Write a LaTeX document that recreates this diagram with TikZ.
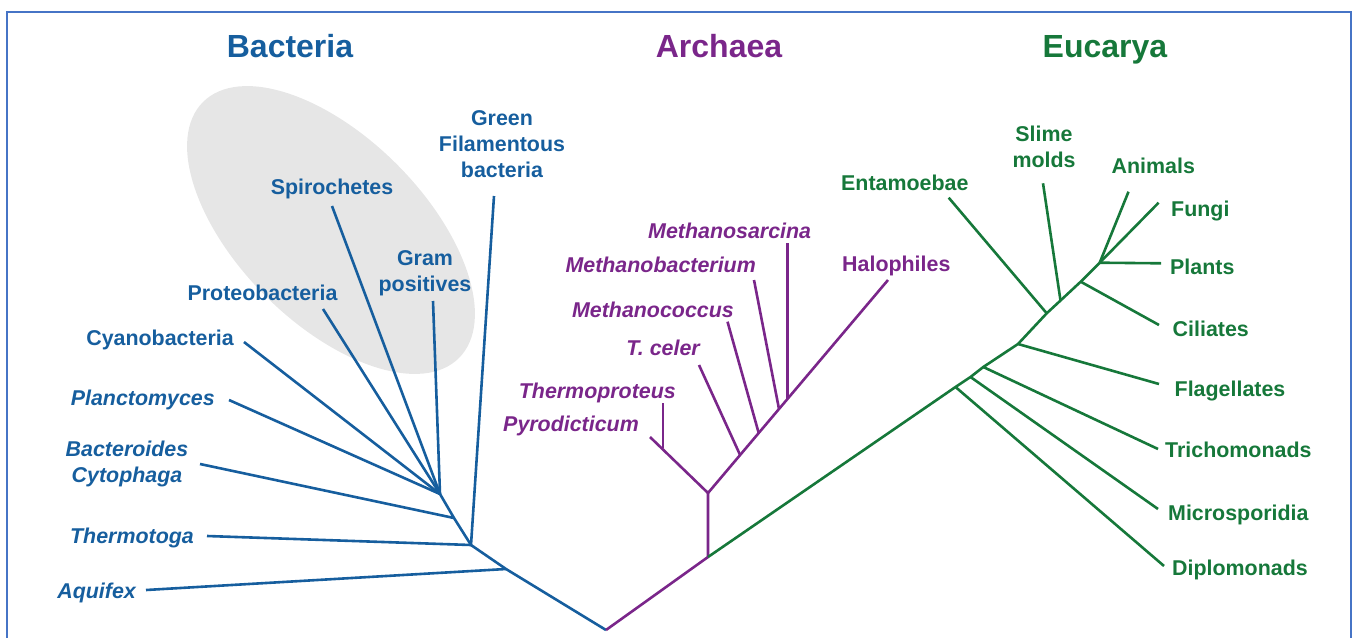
\documentclass[tikz,border=0pt]{standalone}
\usepackage{fontspec}
\setmainfont{Liberation Sans}
\definecolor{bblue}{RGB}{22,94,158}
\definecolor{apurple}{RGB}{122,38,138}
\definecolor{egreen}{RGB}{22,120,58}
\definecolor{framec}{RGB}{70,116,198}
\definecolor{groupgray}{RGB}{230,230,230}
\tikzset{
  lbl/.style={inner sep=0pt, font=\fontsize{21.4}{26}\selectfont\bfseries},
  ital/.style={inner sep=0pt, font=\fontsize{21.4}{26}\selectfont\bfseries\itshape},
  ttl/.style={inner sep=0pt, font=\fontsize{32}{38}\selectfont\bfseries},
  branch/.style={line width=2.6pt, line join=round},
  bac/.style={branch, draw=bblue},
  arc/.style={branch, draw=apurple},
  euc/.style={branch, draw=egreen},
}
\begin{document}
\begin{tikzpicture}[x=1pt,y=-1pt]
\useasboundingbox (0,0) rectangle (1354,637);
% frame
\draw[framec, line width=2pt] (7,640) -- (7,12) -- (1351,12) -- (1351,640);
% shaded group
\fill[groupgray, rotate around={-45:(331,230)}] (331,230) ellipse [x radius=181pt, y radius=93pt];

% ---------- coordinates ----------
\coordinate (R) at (606,630);
% bacteria
\coordinate (bA) at (506,569);
\coordinate (bT) at (471,545);
\coordinate (bB) at (454,518);
\coordinate (bH) at (440,494);
\coordinate (eAquifex) at (146,590);
\coordinate (eThermotoga) at (207,536);
\coordinate (eBacteroides) at (200,464);
\coordinate (ePlanct) at (229,400);
\coordinate (eCyano) at (244,342);
\coordinate (eProteo) at (323,309);
\coordinate (eSpiro) at (332,206);
\coordinate (eGram) at (433,301);
\coordinate (eGreen) at (494,196);
% archaea
\coordinate (aR) at (708,557);
\coordinate (aJ) at (708,493);
\coordinate (ePyro) at (650,437);
\coordinate (jThermop) at (663,448);
\coordinate (eThermop) at (663,403);
\coordinate (eHalo) at (888,280);
\coordinate (jTceler) at (740.1,455);
\coordinate (jMcoccus) at (758.7,433);
\coordinate (jMbact) at (779,409);
\coordinate (jMsarc) at (787.3,399.2);
\coordinate (eTceler) at (699,365);
\coordinate (eMcoccus) at (727.5,321.7);
\coordinate (eMbact) at (754,280);
\coordinate (eMsarc) at (787.3,243);
% eucarya
\coordinate (jDiplo) at (955.5,387);
\coordinate (jMicro) at (970.5,377);
\coordinate (jTricho) at (983.3,367);
\coordinate (jFlag) at (1018,344);
\coordinate (jEnt) at (1046.7,313.3);
\coordinate (jSlime) at (1060.5,300.5);
\coordinate (jCil) at (1080.7,281.7);
\coordinate (jTop) at (1099.7,262.7);
\coordinate (eDiplo) at (1164,566);
\coordinate (eMicro) at (1158,509);
\coordinate (eTricho) at (1158,449);
\coordinate (eFlag) at (1159,384);
\coordinate (eCil) at (1159,325);
\coordinate (ePlants) at (1161,263.3);
\coordinate (eFungi) at (1158.6,202.7);
\coordinate (eAnimals) at (1128.5,191.7);
\coordinate (eSlime) at (1043,183.3);
\coordinate (eEnt) at (948.7,197.7);

% ---------- bacteria branches ----------
\draw[bac] (R) -- (bA) -- (bT) -- (bB) -- (bH);
\draw[bac] (eAquifex) -- (bA);
\draw[bac] (eThermotoga) -- (bT);
\draw[bac] (eBacteroides) -- (bB);
\draw[bac] (ePlanct) -- (bH);
\draw[bac] (eCyano) -- (bH);
\draw[bac] (eProteo) -- (bH);
\draw[bac] (eSpiro) -- (bH);
\draw[bac] (eGram) -- (bH);
\draw[bac] (eGreen) -- (bT);

% ---------- archaea branches ----------
\draw[arc] (R) -- (aR) -- (aJ);
\draw[arc] (aJ) -- (ePyro);
\draw[arc] (eThermop) -- (jThermop);
\draw[arc] (aJ) -- (eHalo);
\draw[arc] (eTceler) -- (jTceler);
\draw[arc] (eMcoccus) -- (jMcoccus);
\draw[arc] (eMbact) -- (jMbact);
\draw[arc] (eMsarc) -- (jMsarc);

% ---------- eucarya branches ----------
\draw[euc] (aR) -- (jDiplo) -- (jMicro) -- (jTricho) -- (jFlag) -- (jEnt) -- (jSlime) -- (jCil) -- (jTop);
\draw[euc] (jDiplo) -- (eDiplo);
\draw[euc] (jMicro) -- (eMicro);
\draw[euc] (jTricho) -- (eTricho);
\draw[euc] (jFlag) -- (eFlag);
\draw[euc] (jCil) -- (eCil);
\draw[euc] (jTop) -- (ePlants);
\draw[euc] (jTop) -- (eFungi);
\draw[euc] (jTop) -- (eAnimals);
\draw[euc] (jSlime) -- (eSlime);
\draw[euc] (jEnt) -- (eEnt);

% ---------- titles ----------
\node[ttl, bblue, anchor=base] (tBac) at (290,57) {Bacteria};
\node[ttl, apurple, anchor=base] (tArc) at (719,57) {Archaea};
\node[ttl, egreen, anchor=base] (tEuc) at (1105,57) {Eucarya};

% ---------- bacteria labels ----------
\node[lbl, bblue, align=center] (lGreen) at (502,144) {Green\\Filamentous\\bacteria};
\node[lbl, bblue, anchor=base] (lSpiro) at (332,194) {Spirochetes};
\node[lbl, bblue, align=center] (lGram) at (425,273) {Gram\\positives};
\node[lbl, bblue, anchor=base] (lProteo) at (262.5,300) {Proteobacteria};
\node[lbl, bblue, anchor=base east] (lCyano) at (234,345) {Cyanobacteria};
\node[ital, bblue, anchor=base east] (lPlanct) at (215,405) {Planctomyces};
\node[ital, bblue, align=center] (lBacter) at (127,464) {Bacteroides\\Cytophaga};
\node[ital, bblue, anchor=base east] (lThermotoga) at (194,543) {Thermotoga};
\node[ital, bblue, anchor=base east] (lAquifex) at (136,598) {Aquifex};

% ---------- archaea labels ----------
\node[ital, apurple, anchor=base west] (lMsarc) at (648,238) {Methanosarcina};
\node[ital, apurple, anchor=base east] (lMbact) at (756,272) {Methanobacterium};
\node[ital, apurple, anchor=base east] (lMcoccus) at (734,317.5) {Methanococcus};
\node[ital, apurple, anchor=base east] (lTceler) at (700,355) {T. celer};
\node[ital, apurple, anchor=base east] (lThermop) at (676,398) {Thermoproteus};
\node[ital, apurple, anchor=base east] (lPyro) at (639,431) {Pyrodicticum};
\node[lbl, apurple, anchor=base west] (lHalo) at (842,271) {Halophiles};

% ---------- eucarya labels ----------
\node[lbl, egreen, anchor=base west] (lEnt) at (841,190) {Entamoebae};
\node[lbl, egreen, align=center] (lSlime) at (1044,146.5) {Slime\\molds};
\node[lbl, egreen, anchor=base west] (lAnimals) at (1111.5,173) {Animals};
\node[lbl, egreen, anchor=base west] (lFungi) at (1171,216.5) {Fungi};
\node[lbl, egreen, anchor=base west] (lPlants) at (1170,274) {Plants};
\node[lbl, egreen, anchor=base west] (lCil) at (1172.5,336.5) {Ciliates};
\node[lbl, egreen, anchor=base west] (lFlag) at (1174.5,396) {Flagellates};
\node[lbl, egreen, anchor=base west] (lTricho) at (1165,457.5) {Trichomonads};
\node[lbl, egreen, anchor=base west] (lMicro) at (1168,520.5) {Microsporidia};
\node[lbl, egreen, anchor=base west] (lDiplo) at (1172,575.5) {Diplomonads};
\end{tikzpicture}
\end{document}
